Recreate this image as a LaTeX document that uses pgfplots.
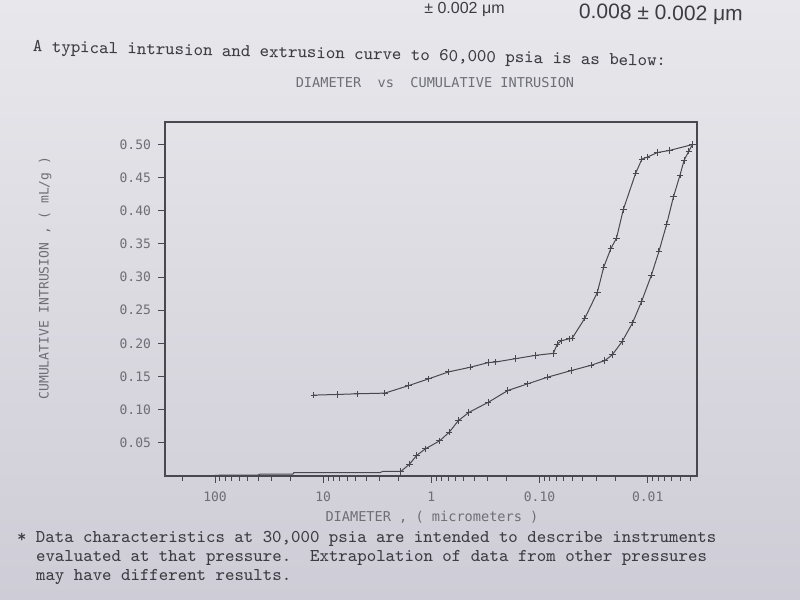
\documentclass[border=0pt]{standalone}
\usepackage{fontspec}
\usepackage{pgfplots}
\pgfplotsset{compat=1.18}

\newfontfamily\dotfont{DejaVu Sans Mono}
\newfontfamily\headfont{Liberation Sans}
\definecolor{papertop}{RGB}{232,232,236}
\definecolor{paperbot}{RGB}{206,204,214}
\definecolor{ink}{RGB}{72,72,78}
\definecolor{dotgray}{RGB}{110,110,118}
\definecolor{typeink}{RGB}{60,60,66}

\begin{document}
\begin{tikzpicture}[x=1pt,y=1pt]
\useasboundingbox (0,0) rectangle (400,300);
\shade[top color=papertop,bottom color=paperbot] (0,0) rectangle (400,300);

% header text
\node[anchor=north east,inner sep=0.5pt,text=typeink,font=\headfont\fontsize{8}{9}\selectfont] at (253,299.5) {± 0.002 μm};
\node[anchor=west,text=typeink,font=\headfont\fontsize{10.5}{12}\selectfont,rotate=-1] at (286,293.5) {0.008 ± 0.002 μm};
\node[anchor=west,text=typeink,font=\ttfamily\fontsize{9}{10}\selectfont,rotate=-1.3] at (13,276) {A typical intrusion and extrusion curve to 60,000 psia is as below:};

% chart labels
\node[text=dotgray,font=\dotfont\fontsize{6.8}{8}\selectfont] at (217.5,258.5) {DIAMETER~~vs~~CUMULATIVE INTRUSION};
\node[text=dotgray,font=\dotfont\fontsize{6.8}{8}\selectfont] at (216,41.5) {DIAMETER , ( micrometers )};
\node[text=dotgray,font=\dotfont\fontsize{6.5}{8}\selectfont,rotate=90] at (22.5,161) {CUMULATIVE INTRUSION , ( mL/g )};

% footnote
\node[anchor=base west,text=typeink,font=\ttfamily\fontsize{9}{10}\selectfont] at (5,28.5) {*\ Data characteristics at 30,000 psia are intended to describe instruments};
\node[anchor=base west,text=typeink,font=\ttfamily\fontsize{9}{10}\selectfont] at (14.5,19) {evaluated at that pressure.\ \ Extrapolation of data from other pressures};
\node[anchor=base west,text=typeink,font=\ttfamily\fontsize{9}{10}\selectfont] at (14.5,9.5) {may have different results.};

\begin{axis}[
  at={(82.5pt,62pt)}, anchor=south west,
  scale only axis,
  width=266pt, height=177pt,
  xmode=log, x dir=reverse,
  xmin=0.0035, xmax=290,
  ymin=0, ymax=0.534,
  axis line style={ink,line width=0.6pt},
  tick style={ink,line width=0.5pt},
  tick align=outside,
  tick pos=left,
  major tick length=3.5pt,
  minor tick length=2.5pt,
  xtick={100,10,1,0.1,0.01},
  xticklabels={100,10,1,0.10,0.01},
  minor xtick={200,20,30,40,50,60,70,80,90,2,3,4,5,6,7,8,9,0.2,0.3,0.4,0.5,0.6,0.7,0.8,0.9,0.02,0.03,0.04,0.05,0.06,0.07,0.08,0.09,0.004,0.005,0.006,0.007,0.008,0.009},
  ytick={0.05,0.10,0.15,0.20,0.25,0.30,0.35,0.40,0.45,0.50},
  yticklabels={0.05,0.10,0.15,0.20,0.25,0.30,0.35,0.40,0.45,0.50},
  ticklabel style={font=\dotfont\fontsize{6.5}{8}\selectfont,text=dotgray},
  xticklabel style={yshift=-1pt},
  every axis plot/.append style={ink,line width=0.5pt},
]
% intrusion, low plateau
\addplot[no marks] coordinates {
(290,0.000) (120,0.000) (85,0.0015) (40,0.0015) (38,0.003) (19,0.003)
(18.7,0.005) (3.0,0.005) (2.8,0.007) (1.91,0.007)
};
% intrusion, rising part
\addplot[mark=+,mark size=1.6pt,mark options={solid,line width=0.5pt}] coordinates {
(1.91,0.007) (1.59,0.018) (1.366,0.031) (1.135,0.041) (0.838,0.053)
(0.684,0.066) (0.563,0.0835) (0.449,0.096) (0.299,0.111) (0.196,0.129)
(0.129,0.139) (0.0845,0.149) (0.0509,0.159) (0.0334,0.167) (0.0249,0.174)
(0.0212,0.183) (0.0172,0.203) (0.0138,0.231) (0.0114,0.263) (0.00924,0.303)
(0.00786,0.339) (0.00667,0.380) (0.00578,0.421) (0.00502,0.454)
(0.00461,0.476) (0.00417,0.490) (0.00385,0.500)
};
% extrusion
\addplot[mark=+,mark size=1.6pt,mark options={solid,line width=0.5pt}] coordinates {
(0.00385,0.500) (0.0063,0.491) (0.0081,0.488) (0.0101,0.481) (0.0113,0.478)
(0.0129,0.457) (0.0168,0.402) (0.0194,0.359) (0.0219,0.343) (0.0255,0.315)
(0.0292,0.277) (0.0381,0.238) (0.0498,0.208) (0.0531,0.207) (0.0629,0.204)
(0.0685,0.199) (0.0745,0.185) (0.109,0.182) (0.166,0.177) (0.253,0.172)
(0.299,0.171) (0.438,0.164) (0.695,0.157) (1.06,0.1465) (1.62,0.1364)
(2.69,0.125) (4.84,0.124) (7.38,0.123) (12.2,0.122)
};
\end{axis}
\end{tikzpicture}
\end{document}
